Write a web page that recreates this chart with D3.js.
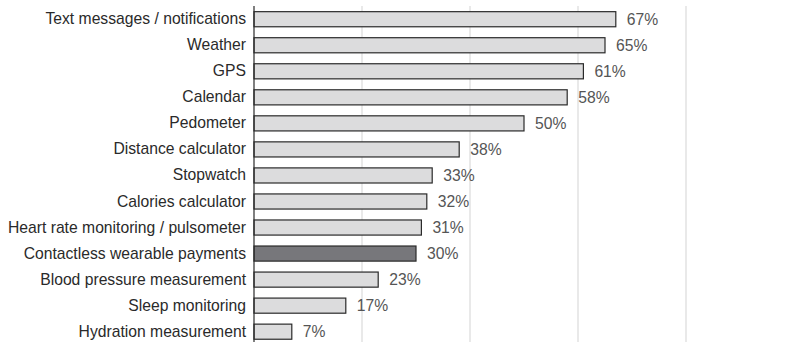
<!DOCTYPE html>
<html>
<head>
<meta charset="utf-8">
<script src="https://cdn.jsdelivr.net/npm/d3@7"></script>
<style>
  html, body { margin: 0; padding: 0; background: #fff; }
  svg { display: block; }
</style>
</head>
<body>
<svg id="chart" width="790" height="342"></svg>
<script>
// Smartwatch feature usage (share of respondents, %)
const categories = [
  "Text messages / notifications",
  "Weather",
  "GPS",
  "Calendar",
  "Pedometer",
  "Distance calculator",
  "Stopwatch",
  "Calories calculator",
  "Heart rate monitoring / pulsometer",
  "Contactless wearable payments",
  "Blood pressure measurement",
  "Sleep monitoring",
  "Hydration measurement"
];
const values = [67, 65, 61, 58, 50, 38, 33, 32, 31, 30, 23, 17, 7];
const highlighted = ["Contactless wearable payments"];
const gridTicks = [20, 40, 60, 80];

const svg = d3.select("#chart");
const x0 = 254;
const font = "Liberation Sans, Arial, Helvetica, sans-serif";
const fontSize = 15.7;

const x = d3.scaleLinear().domain([0, 100]).range([x0, x0 + 540]);
const y = d3.scaleBand()
  .domain(categories)
  .range([6.2, 344.7])
  .paddingInner(0.42)
  .paddingOuter(0.21);

// vertical gridlines
svg.append("g")
  .selectAll("line")
  .data(gridTicks)
  .join("line")
  .attr("x1", d => x(d)).attr("x2", d => x(d))
  .attr("y1", 6).attr("y2", 342)
  .attr("stroke", "#e2e2e2")
  .attr("stroke-width", 1.5);

// bars
svg.append("g")
  .selectAll("rect")
  .data(categories)
  .join("rect")
  .attr("x", x(0))
  .attr("y", d => y(d))
  .attr("width", (d, i) => x(values[i]) - x(0))
  .attr("height", y.bandwidth())
  .attr("fill", d => highlighted.includes(d) ? "#77777b" : "#dcdcdd")
  .attr("stroke", "#2a2a2a")
  .attr("stroke-width", 1.2);

// value labels
svg.append("g")
  .selectAll("text")
  .data(categories)
  .join("text")
  .attr("x", (d, i) => x(values[i]) + 11)
  .attr("y", d => y(d) + y.bandwidth() / 2)
  .attr("dy", "0.36em")
  .attr("font-family", font)
  .attr("font-size", fontSize)
  .attr("fill", "#555")
  .text((d, i) => values[i] + "%");

// category axis
const axis = d3.axisLeft(y).tickSize(0).tickPadding(8);
const ag = svg.append("g")
  .attr("transform", `translate(${x0},0)`)
  .call(axis);
ag.select(".domain").remove();
ag.selectAll("text")
  .attr("font-family", font)
  .attr("font-size", fontSize)
  .attr("fill", "#2a2a2a");

svg.append("line")
  .attr("x1", x0).attr("x2", x0)
  .attr("y1", 6).attr("y2", 342)
  .attr("stroke", "#2a2a2a")
  .attr("stroke-width", 1.2);
</script>
</body>
</html>
